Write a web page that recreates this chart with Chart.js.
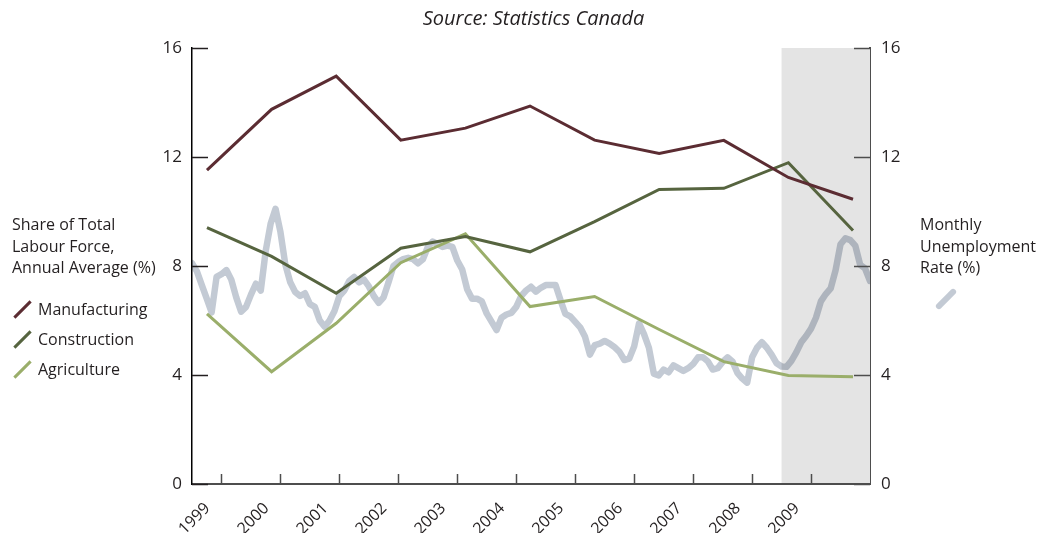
<!DOCTYPE html>
<html>
<head>
<meta charset="utf-8">
<script src="https://cdn.jsdelivr.net/npm/chart.js@4.4.1/dist/chart.umd.min.js"></script>
<style>
  body { margin: 0; background: #fff; }
  #wrap { position: relative; width: 1055px; height: 533px; overflow: hidden;
          font-family: "Open Sans", sans-serif; color: #231f20; }
  canvas { position: absolute; left: 0; top: 0; }
  .txt { position: absolute; font-size: 16px; line-height: 21.5px; white-space: nowrap; }
  #source { left: 0; width: 1067px; text-align: center; top: 4px; font-size: 20px; font-style: italic; line-height: 27px; }
  #leftLabel { left: 12px; top: 214px; }
  #rightLabel { left: 920px; top: 214px; }
  .item { position: absolute; left: 0; font-size: 16px; line-height: 21.5px; white-space: nowrap; }
  .item span.label { position: absolute; left: 38px; top: 0; }
  .item span.icon { position: absolute; left: 11px; top: 9px; width: 23px; height: 3px; transform: rotate(-45deg); }
  #rightIcon { position: absolute; left: 933px; top: 296px; width: 26px; height: 6px;
               border-radius: 3px; transform: rotate(-45deg); }
</style>
</head>
<body>
<div id="wrap">
  <canvas id="chart" width="1055" height="533"></canvas>
  <div id="source" class="txt">Source: Statistics Canada</div>
  <div id="leftLabel" class="txt">Share of Total<br>Labour Force,<br>Annual Average (%)</div>
  <div id="legend"></div>
  <div id="rightLabel" class="txt">Monthly<br>Unemployment<br>Rate (%)</div>
  <span id="rightIcon"></span>
</div>
<script>
// annual averages (share of total labour force, %)
const years = [1999, 2000, 2001, 2002, 2003, 2004, 2005, 2006, 2007, 2008, 2009];
const manufacturing = [11.52, 13.75, 14.97, 12.62, 13.06, 13.87, 12.62, 12.13, 12.61, 11.25, 10.45];
const construction = [9.41, 8.35, 7.0, 8.65, 9.08, 8.52, 9.63, 10.81, 10.85, 11.79, 9.3];
const agriculture = [6.24, 4.12, 5.9, 8.12, 9.18, 6.51, 6.88, 5.67, 4.49, 3.98, 3.94];

// monthly unemployment rate (%), first month is mid-1998
const unemploymentStart = 1998.5;
const unemployment = [
  8.1, 7.8, 7.3, 6.8, 6.3, 7.6, 7.7, 7.85, 7.5, 6.85,
  6.32, 6.5, 6.95, 7.35, 7.1, 8.55, 9.55, 10.1, 9.25, 8.05,
  7.4, 7.05, 6.9, 7.0, 6.6, 6.5, 6.0, 5.77, 6.0, 6.35,
  6.9, 7.1, 7.45, 7.6, 7.4, 7.5, 7.25, 6.9, 6.65, 6.85,
  7.4, 8.0, 8.15, 8.25, 8.3, 8.25, 8.1, 8.25, 8.7, 8.9,
  8.8, 8.7, 8.75, 8.7, 8.2, 7.87, 7.15, 6.8, 6.8, 6.7,
  6.25, 5.95, 5.65, 6.1, 6.22, 6.28, 6.5, 6.9, 7.1, 7.24,
  7.06, 7.2, 7.3, 7.3, 7.3, 6.75, 6.24, 6.15, 5.95, 5.75,
  5.4, 4.75, 5.1, 5.15, 5.25, 5.15, 5.02, 4.85, 4.55, 4.6,
  5.05, 5.9, 5.5, 5.0, 4.05, 3.98, 4.2, 4.1, 4.35, 4.25,
  4.15, 4.25, 4.4, 4.65, 4.65, 4.5, 4.2, 4.25, 4.48, 4.65,
  4.5, 4.08, 3.87, 3.72, 4.65, 5.0, 5.2, 5.0, 4.74, 4.43,
  4.31, 4.3, 4.52, 4.83, 5.2, 5.43, 5.7, 6.1, 6.7, 6.97,
  7.18, 7.85, 8.8, 9.02, 8.95, 8.75, 8.04, 7.91, 7.45
];

const recessionStart = 2008.5;
const yTicks = [0, 4, 8, 12, 16];

const colors = {
  manufacturing: "#5b2c32",
  construction: "#56643f",
  agriculture: "#9aae6a",
  unemployment: "#c3cad4"
};
const fontFamily = '"Open Sans", sans-serif';
const textColor = "#231f20";

const recessionShade = {
  id: "recessionShade",
  beforeDatasetsDraw(chart) {
    const { ctx, chartArea: a, scales } = chart;
    const x0 = scales.x.getPixelForValue(recessionStart);
    ctx.save();
    ctx.fillStyle = "#e4e4e4";
    ctx.fillRect(x0, a.top, a.right - x0, a.bottom - a.top - 1);
    ctx.restore();
  },
  beforeDatasetDraw(chart, args) {
    if (args.index === 3) {
      chart.ctx.save();
      chart.ctx.globalCompositeOperation = "multiply";
    }
  },
  afterDatasetDraw(chart, args) {
    if (args.index === 3) chart.ctx.restore();
  }
};

const innerTicks = {
  id: "innerTicks",
  afterDraw(chart) {
    const { ctx, chartArea: a, scales } = chart;
    ctx.save();
    ctx.lineWidth = 1.5;
    ctx.strokeStyle = textColor;
    const line = (x1, y1, x2, y2) => {
      ctx.beginPath();
      ctx.moveTo(x1, y1);
      ctx.lineTo(x2, y2);
      ctx.stroke();
    };
    scales.y.ticks.forEach((t) => {
      const py = Math.round(scales.y.getPixelForValue(t.value)) + 0.5;
      line(a.left, py, a.left + 16, py);
    });
    ctx.strokeStyle = "#4d4d4d";
    scales.y2.ticks.forEach((t) => {
      const py = Math.round(scales.y2.getPixelForValue(t.value)) + 0.5;
      line(a.right - 16, py, a.right, py);
    });
    scales.x.ticks.forEach((t) => {
      const px = Math.round(scales.x.getPixelForValue(t.value)) + 0.5;
      line(px, a.bottom, px, a.bottom - 10);
    });
    ctx.restore();
  }
};

const annual = (values) => years.map((yr, i) => ({ x: yr, y: values[i] }));

const ctx = document.getElementById("chart").getContext("2d");
const chart = new Chart(ctx, {
  type: "line",
  data: {
    datasets: [
      { label: "Manufacturing", data: annual(manufacturing), xAxisID: "xa", yAxisID: "y",
        borderColor: colors.manufacturing, borderWidth: 3, pointRadius: 0, tension: 0 },
      { label: "Construction", data: annual(construction), xAxisID: "xa", yAxisID: "y",
        borderColor: colors.construction, borderWidth: 3, pointRadius: 0, tension: 0 },
      { label: "Agriculture", data: annual(agriculture), xAxisID: "xa", yAxisID: "y",
        borderColor: colors.agriculture, borderWidth: 3, pointRadius: 0, tension: 0 },
      { label: "Monthly Unemployment Rate (%)",
        data: unemployment.map((v, i) => ({ x: unemploymentStart + i / 12, y: v })),
        xAxisID: "x", yAxisID: "y2", borderColor: colors.unemployment, borderWidth: 6.5,
        borderJoinStyle: "round", borderCapStyle: "round", pointRadius: 0, tension: 0 }
    ]
  },
  options: {
    responsive: false,
    animation: false,
    layout: { padding: { top: 48, left: 0, right: 0, bottom: 0 } },
    plugins: { legend: { display: false }, tooltip: { enabled: false } },
    scales: {
      x: {
        type: "linear", position: "bottom", min: 1998.5, max: 2010,
        afterFit: (s) => { s.height = 49; },
        afterBuildTicks: (s) => { s.ticks = years.map((v) => ({ value: v })); },
        grid: { display: false },
        border: { color: "#4d4d4d", width: 2 },
        ticks: { color: textColor, font: { family: fontFamily, size: 16 },
                 minRotation: 45, maxRotation: 45, padding: 7, labelOffset: -14,
                 autoSkip: false, callback: (v) => String(v) }
      },
      xa: { type: "linear", display: false, min: 1998.768, max: 2009.263 },
      y: {
        position: "left", min: 0, max: 16,
        afterFit: (s) => { s.width = 192; },
        afterBuildTicks: (s) => { s.ticks = yTicks.map((v) => ({ value: v })); },
        grid: { display: false, drawTicks: false },
        border: { color: "#000", width: 1.5 },
        ticks: { color: textColor, font: { family: fontFamily, size: 17 }, padding: 10 }
      },
      y2: {
        position: "right", min: 0, max: 16,
        afterFit: (s) => { s.width = 185; },
        afterBuildTicks: (s) => { s.ticks = yTicks.map((v) => ({ value: v })); },
        grid: { display: false, drawTicks: false },
        border: { color: "#4d4d4d", width: 2 },
        ticks: { color: textColor, font: { family: fontFamily, size: 17 }, padding: 11 }
      }
    }
  },
  plugins: [recessionShade, innerTicks]
});

// legend for the annual series
const legendBox = document.getElementById("legend");
chart.data.datasets.slice(0, 3).forEach((ds, i) => {
  const item = document.createElement("div");
  item.className = "item";
  item.style.top = 299 + i * 30 + "px";
  item.innerHTML = '<span class="icon"></span><span class="label"></span>';
  item.querySelector(".icon").style.background = ds.borderColor;
  item.querySelector(".label").textContent = ds.label;
  legendBox.appendChild(item);
});
document.getElementById("rightIcon").style.background = colors.unemployment;
</script>
</body>
</html>
